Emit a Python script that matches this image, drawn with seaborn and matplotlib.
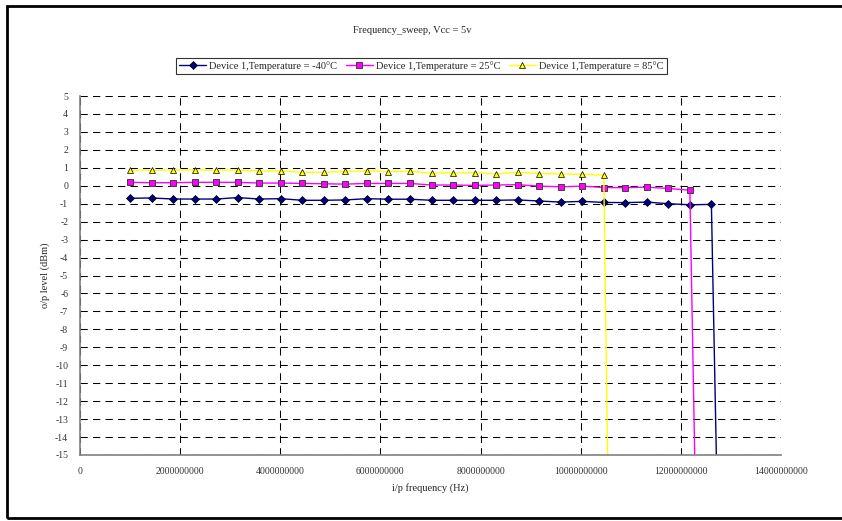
import numpy as np
import pandas as pd
import matplotlib
matplotlib.use("Agg")
import matplotlib.pyplot as plt
import seaborn as sns
from matplotlib.patches import Rectangle
from matplotlib.ticker import FuncFormatter, MultipleLocator

# Frequency points (Hz)
freq = [1.00e9, 1.43e9, 1.86e9, 2.29e9, 2.72e9, 3.15e9, 3.58e9, 4.01e9,
        4.44e9, 4.87e9, 5.30e9, 5.73e9, 6.16e9, 6.59e9, 7.02e9, 7.45e9,
        7.88e9, 8.31e9, 8.74e9, 9.17e9, 9.60e9, 10.03e9, 10.46e9, 10.89e9,
        11.32e9, 11.75e9, 12.18e9, 12.61e9, 13.04e9]

# Output level (dBm) per temperature; last value is the drop-out point
level_m40 = [-0.70, -0.68, -0.74, -0.74, -0.74, -0.66, -0.74, -0.72,
             -0.81, -0.81, -0.79, -0.72, -0.75, -0.75, -0.81, -0.81,
             -0.81, -0.81, -0.79, -0.85, -0.91, -0.87, -0.93, -0.94,
             -0.91, -1.00, -1.06, -1.04, -62.0]
level_25 = [0.19, 0.17, 0.17, 0.19, 0.19, 0.19, 0.15, 0.15,
            0.13, 0.11, 0.09, 0.13, 0.13, 0.13, 0.04, 0.04,
            0.02, 0.04, 0.06, -0.02, -0.06, -0.02, -0.10, -0.11,
            -0.08, -0.15, -0.25, -66.0]
level_85 = [0.87, 0.87, 0.87, 0.89, 0.87, 0.87, 0.83, 0.83,
            0.75, 0.75, 0.80, 0.83, 0.79, 0.81, 0.70, 0.72,
            0.72, 0.66, 0.74, 0.68, 0.66, 0.64, 0.59, -86.0]

labels = ["Device 1,Temperature = -40°C",
          "Device 1,Temperature = 25°C",
          "Device 1,Temperature = 85°C"]

sns.set_style("white")
plt.rcParams['font.family'] = ['Liberation Serif', 'DejaVu Serif']

fig = plt.figure(figsize=(8.42, 5.21), dpi=100)
ax = fig.add_axes([80/842, 66/521, 701/842, 359/521])

sns.lineplot(x=freq[:len(level_m40)], y=level_m40, ax=ax, color="#000080",
             marker="D", markersize=4, markerfacecolor="#000080",
             markeredgecolor="black", markeredgewidth=0.5, linewidth=1,
             label=labels[0])
sns.lineplot(x=freq[:len(level_25)], y=level_25, ax=ax, color="#FF00FF",
             marker="s", markersize=4.5, markerfacecolor="#FF00FF",
             markeredgecolor="#404040", markeredgewidth=0.7, linewidth=1,
             label=labels[1])
sns.lineplot(x=freq[:len(level_85)], y=level_85, ax=ax, color="#FFFF00",
             marker="^", markersize=4.5, markerfacecolor="#FFFF00",
             markeredgecolor="black", markeredgewidth=0.5, linewidth=1,
             label=labels[2])

ax.set_xlim(0, 1.4e10)
ax.set_ylim(-15, 5)
ax.xaxis.set_major_locator(MultipleLocator(2e9))
ax.yaxis.set_major_locator(MultipleLocator(1))
ax.xaxis.set_major_formatter(FuncFormatter(lambda v, p: "%d" % round(v)))
ax.yaxis.set_major_formatter(FuncFormatter(lambda v, p: "%d" % round(v)))

ax.grid(True, color="black", linestyle=(0, (7, 5)), linewidth=0.75)
for s in ["top", "right"]:
    ax.spines[s].set_visible(False)
for s in ["left", "bottom"]:
    ax.spines[s].set_color("#808080")
    ax.spines[s].set_linewidth(1.2)
ax.tick_params(axis="both", direction="inout", length=5, width=1,
               color="black", labelsize=7, labelcolor="#333333", pad=6)
ax.tick_params(axis="x", pad=6)

ax.set_xlabel("i/p frequency (Hz)", fontsize=7.5, labelpad=5)
ax.set_ylabel("o/p level (dBm)", fontsize=7.5, labelpad=4)

fig.text(0.49, 0.942, "Frequency_sweep, Vcc = 5v", ha="center", va="center",
         fontsize=7.5)

leg = ax.legend(loc="center", bbox_to_anchor=(0.487, 1.084), ncol=3,
                frameon=True, fontsize=7.5, handlelength=2.6,
                columnspacing=0.8, handletextpad=0.3, borderpad=0.3,
                fancybox=False)
leg.get_frame().set_edgecolor("black")
leg.get_frame().set_linewidth(0.8)

fig.patches.append(Rectangle((7/842, 3/521), 840/842, 512/521,
                             transform=fig.transFigure, fill=False,
                             edgecolor="black", linewidth=2))

fig.savefig("out.png", dpi=100)
